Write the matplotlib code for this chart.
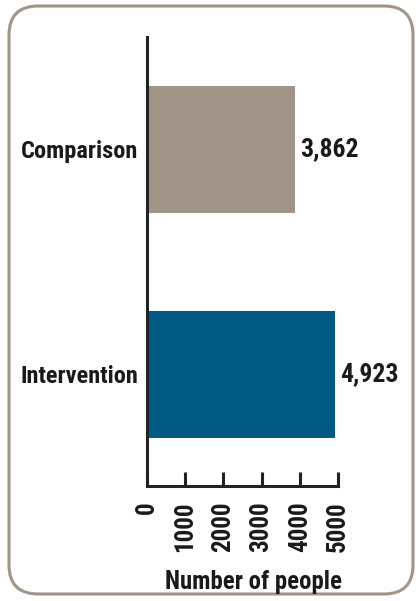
import matplotlib
matplotlib.use("Agg")
import matplotlib.pyplot as plt
from matplotlib.patches import FancyBboxPatch
from matplotlib.transforms import offset_copy
import logging
logging.getLogger('matplotlib.font_manager').setLevel(logging.ERROR)

categories = ["Intervention", "Comparison"]
values = [4923, 3862]
value_labels = ["4,923", "3,862"]
colors = ["#005a84", "#a09488"]
ticks = [0, 1000, 2000, 3000, 4000, 5000]
xlabel = "Number of people"

plt.rcParams['font.family'] = ['Roboto Condensed', 'Archivo Narrow', 'Liberation Sans Narrow', 'DejaVu Sans']
plt.rcParams['font.weight'] = 'bold'

W, H = 416, 601
fig = plt.figure(figsize=(W/100, H/100), dpi=100)

# rounded border
box = FancyBboxPatch((9/W, 7/H), (413-9)/W, (595-7)/H,
                     boxstyle="round,pad=0,rounding_size=0.07",
                     transform=fig.transFigure, facecolor="none",
                     edgecolor="#a09488", linewidth=2.2,
                     mutation_aspect=W/H, zorder=-5)
fig.patches.append(box)

ax = fig.add_axes([147/W, 1-486/H, (338-147)/W, (486-37)/H])
ax.set_zorder(2)
ax.patch.set_alpha(0)
ypos = list(range(len(categories)))
ax.barh(ypos, values, height=0.564, color=colors)
ax.set_xlim(0, 5000)
ax.set_ylim(-0.496, 1.5)
ax.set_yticks(ypos)
ax.set_yticklabels(categories, fontsize=17.6, fontweight='bold', color="#1a1a1a")
ax.tick_params(axis='y', length=0, pad=6)
ax.set_xticks(ticks)
ax.set_xticklabels([str(t) for t in ticks], rotation=90, fontsize=18, fontweight='bold', color="#1a1a1a")
ax.tick_params(axis='x', direction='in', length=10, width=2.2, pad=11, color="#222222")
for s in ['top', 'right']:
    ax.spines[s].set_visible(False)
for s in ['left', 'bottom']:
    ax.spines[s].set_linewidth(2.2)
    ax.spines[s].set_color("#222222")
tr = offset_copy(ax.transData, fig=fig, x=4, y=0, units='points')
for y, v, lab in zip(ypos, values, value_labels):
    ax.text(v, y, lab, va='center', ha='left', fontsize=18.5, fontweight='bold',
            color="#1a1a1a", transform=tr)
ax.set_xlabel(xlabel, fontsize=17.8, fontweight='bold', color="#1a1a1a", va='baseline')
ax.xaxis.set_label_coords(0.558, (486-589)/449)

fig.savefig("out.png", dpi=100)
